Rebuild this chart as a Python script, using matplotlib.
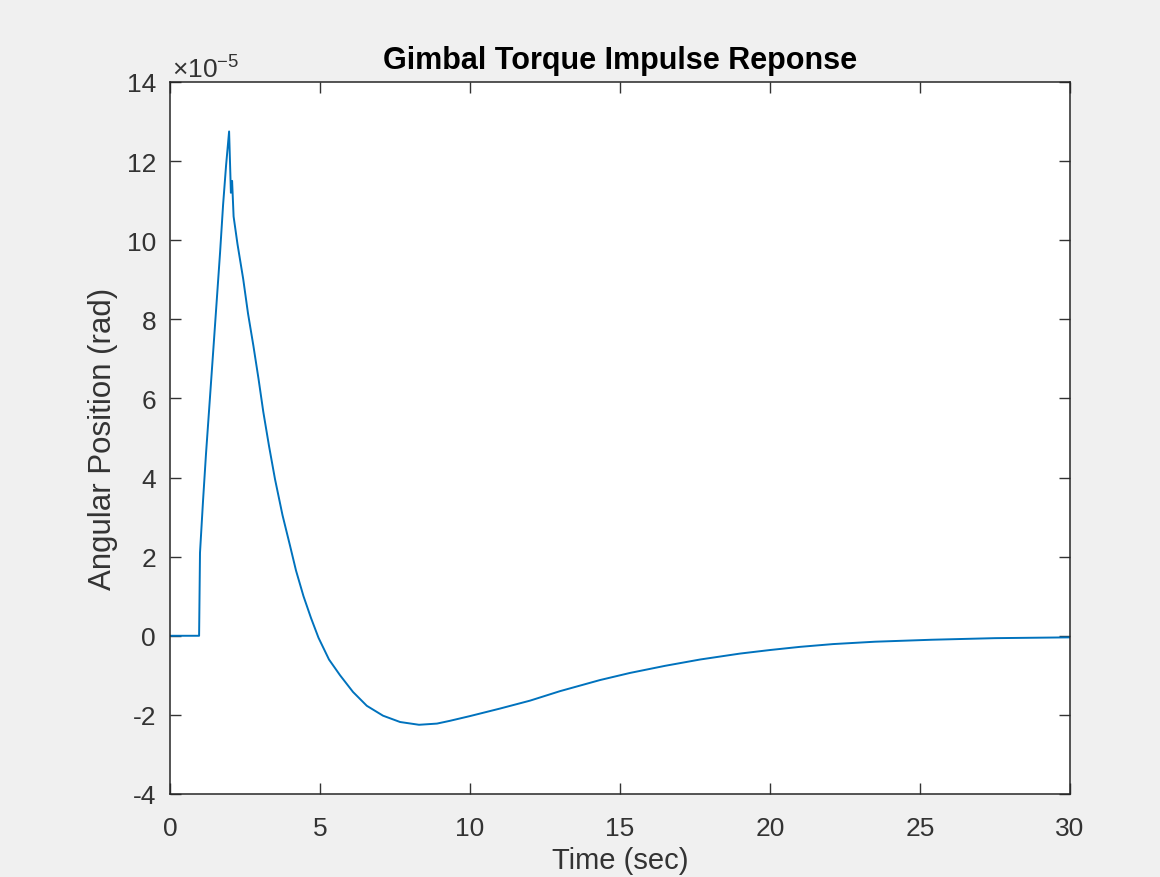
import matplotlib

matplotlib.use('Agg')
from matplotlib import pyplot as plt

plt.rcParams['font.family'] = ['Liberation Sans', 'DejaVu Sans']
plt.rcParams['mathtext.fontset'] = 'custom'
plt.rcParams['mathtext.rm'] = 'Liberation Sans'
plt.rcParams['mathtext.it'] = 'Liberation Sans:italic'
plt.rcParams['axes.unicode_minus'] = False

# response, angle in units of 1e-5 rad
time_sec = [0, 0.97, 1.0, 1.1, 1.2, 1.33, 1.45, 1.56, 1.67, 1.77, 1.87, 1.97,
            2.03, 2.07, 2.12, 2.25, 2.44, 2.6, 2.78, 2.95, 3.11, 3.3, 3.5, 3.75,
            4.0, 4.2, 4.45, 4.7, 4.95, 5.3, 5.67, 6.1, 6.56, 7.1, 7.67, 8.3,
            8.9, 9.33, 10.0, 11.0, 12.0, 13.0, 14.33, 15.33, 16.5, 17.67, 19.0,
            20.0, 21.0, 22.1, 23.5, 25.4, 27.5, 30.0]
angle_e5 = [0, 0, 2.1, 3.4, 4.6, 6.0, 7.3, 8.5, 9.7, 10.9, 11.9, 12.75,
            11.2, 11.5, 10.6, 9.9, 9.02, 8.15, 7.33, 6.5, 5.66, 4.8, 3.96, 3.05,
            2.28, 1.65, 1.0, 0.45, -0.05, -0.6, -1.0, -1.42, -1.77, -2.02, -2.18, -2.25,
            -2.22, -2.15, -2.03, -1.84, -1.64, -1.4, -1.12, -0.94, -0.76, -0.6, -0.45,
            -0.36, -0.28, -0.21, -0.15, -0.1, -0.06, -0.04]

xticks = [0, 5, 10, 15, 20, 25, 30]
yticks = [-4, -2, 0, 2, 4, 6, 8, 10, 12, 14]

fig = plt.figure(figsize=(11.6, 8.78), dpi=100, facecolor='#f0f0f0')
ax = fig.add_axes([170 / 1160, 83 / 878, 900 / 1160, 712 / 878])
ax.set_facecolor('white')

ax.plot(time_sec, angle_e5, color='#0072BD', lw=1.4)

ax.set_xlim(0, 30)
ax.set_ylim(-4, 14)
ax.set_xticks(xticks)
ax.set_yticks(yticks)
ax.tick_params(direction='in', top=True, right=True, length=8, width=1,
               colors='#333333', labelsize=19)
ax.tick_params(axis='x', pad=16)
ax.tick_params(axis='y', pad=10)
for s in ax.spines.values():
  s.set_color('#262626')
  s.set_linewidth(1.1)

ax.set_title('Gimbal Torque Impulse Reponse', fontsize=22, fontweight='bold',
             color='black', pad=10)
ax.set_ylabel('Angular Position (rad)', fontsize=22.5, color='#333333', labelpad=6)
# reference crops this label at the bottom edge; keep it just inside
ax.set_xlabel('Time (sec)', fontsize=21, color='#333333', labelpad=4)

fig.text(172 / 1160, 1 - 70 / 878, r'$\times10^{-5}$', fontsize=19,
         color='#333333', va='center', ha='left')

plt.savefig('out.png', dpi=100, facecolor=fig.get_facecolor())
